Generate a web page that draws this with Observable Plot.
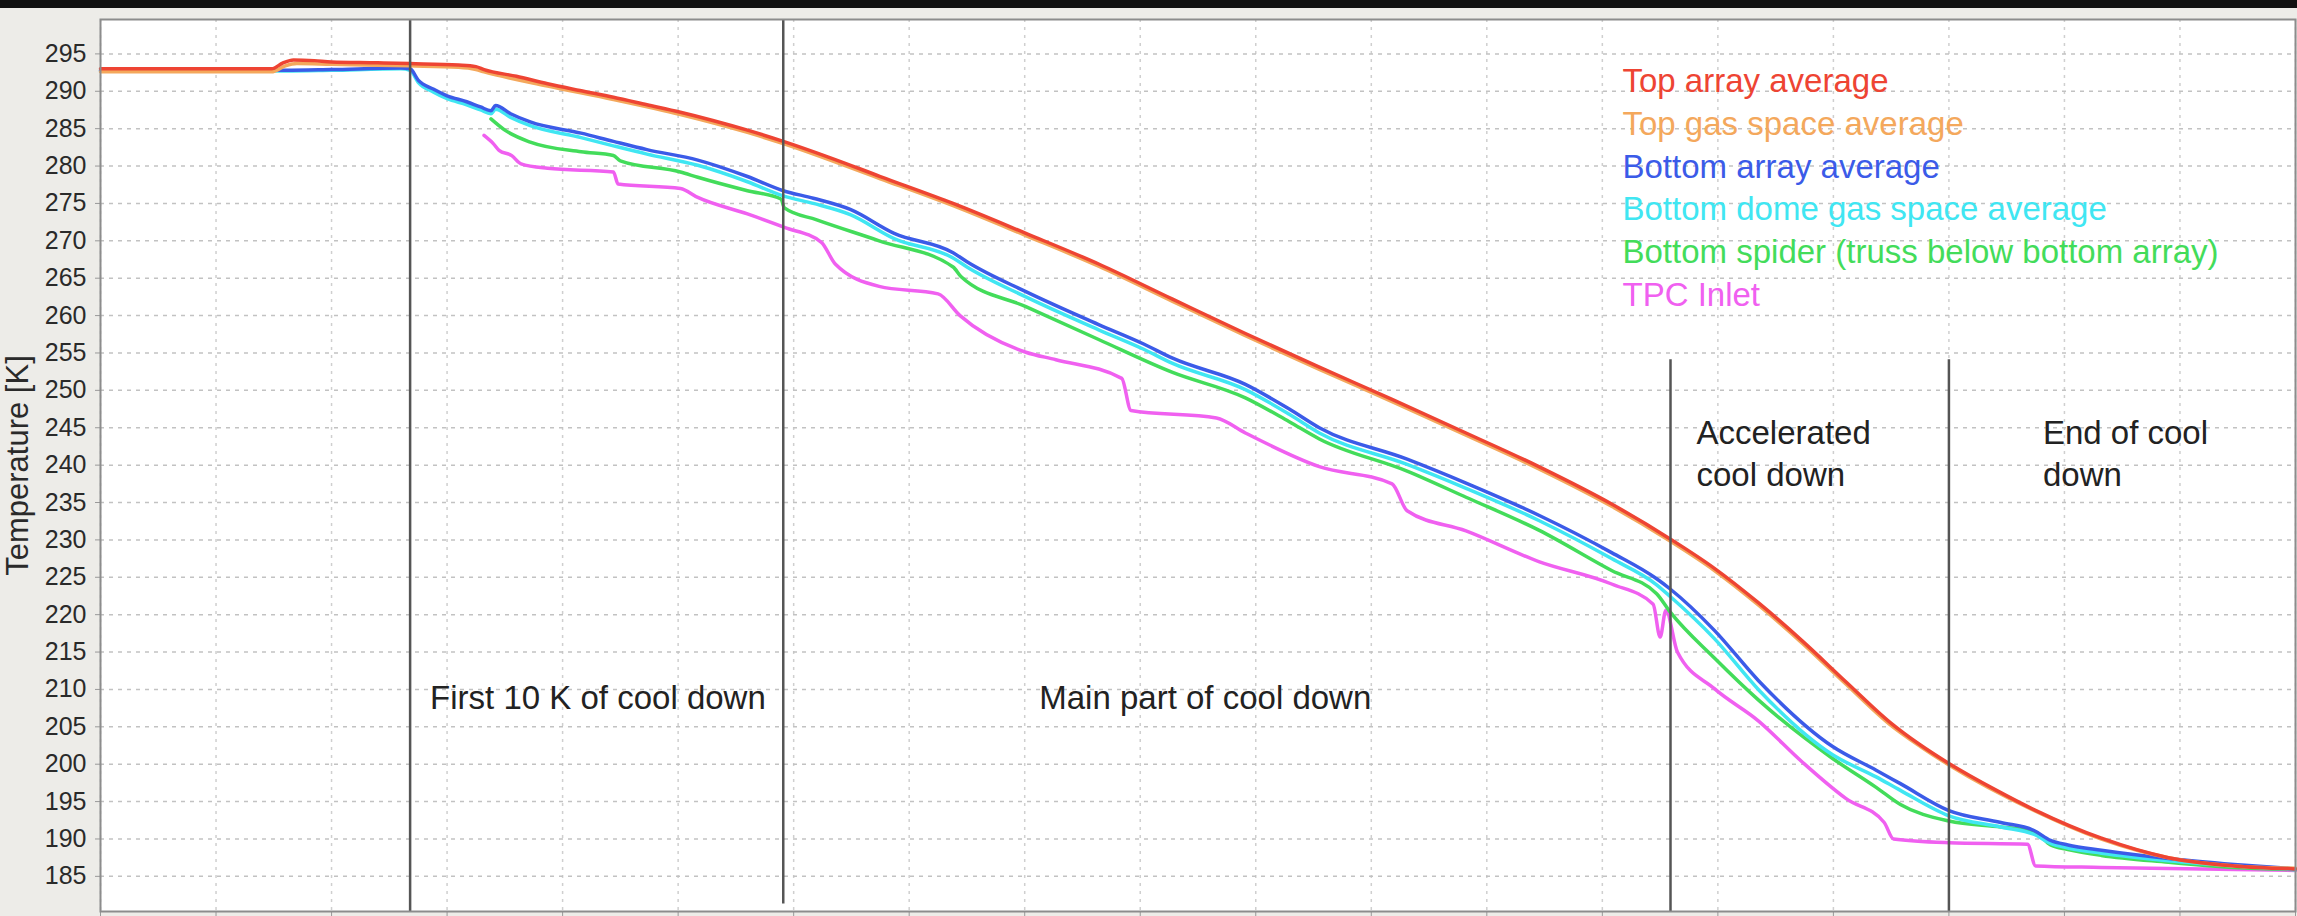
<!DOCTYPE html>
<html><head><meta charset="utf-8">
<script src="https://cdn.jsdelivr.net/npm/d3@7"></script>
<script src="https://cdn.jsdelivr.net/npm/@observablehq/plot@0.6"></script>
<style>
html,body{margin:0;padding:0;background:#edece8;width:2297px;height:916px;overflow:hidden;}
#chart{position:absolute;left:0;top:0;}
#topbar{position:absolute;left:0;top:0;width:2297px;height:8px;background:#111;}
</style></head><body>
<div id="chart"></div>
<div id="topbar"></div>
<script>
// ---- data ----
const seriesNames = [
  "Top array average",
  "Top gas space average",
  "Bottom array average",
  "Bottom dome gas space average",
  "Bottom spider (truss below bottom array)",
  "TPC Inlet"
];
const seriesColors = ["#ee4433", "#f4a85c", "#3b5be8", "#40e6f2", "#43dc5a", "#f060f0"];

// [time, temperature K]
const topArray = [[0,293.0],[0.5,293.0],[1.0,293.0],[1.48,293.0],[1.58,293.8],[1.67,294.2],[1.85,294.1],[2.0,293.9],[2.4,293.8],[2.68,293.7],[3.1,293.5],[3.25,293.3],[3.32,292.9],[3.6,292.0],[3.87,291.0],[4.15,290.1],[4.44,289.2],[4.73,288.2],[5.02,287.2],[5.3,286.1],[5.6,284.8],[5.91,283.3],[6.3,281.2],[6.75,278.6],[7.38,275.0],[8.01,271.0],[8.64,266.9],[9.28,262.2],[9.91,257.6],[10.55,253.1],[11.18,248.8],[11.82,244.3],[12.45,239.8],[13.08,234.8],[13.59,230.1],[13.97,226.2],[14.35,221.6],[14.73,216.5],[15.11,211.0],[15.49,205.6],[15.75,202.6],[16.0,200.1],[16.4,196.6],[16.74,193.9],[17.32,190.1],[17.9,187.5],[18.47,186.4],[19.0,186.0]];
const topGas = [[0,292.6],[1.48,292.6],[1.6,293.4],[1.7,293.7],[2.0,293.6],[2.68,293.4],[3.1,293.2],[3.25,292.9],[3.32,292.6],[3.87,290.7],[4.44,288.9],[5.02,286.9],[5.6,284.5],[5.91,283.0],[6.75,278.3],[7.38,274.7],[8.01,270.7],[8.64,266.6],[9.28,261.9],[9.91,257.3],[10.55,252.8],[11.18,248.5],[11.82,244.0],[12.45,239.5],[13.08,234.5],[13.59,229.8],[13.97,225.9],[14.35,221.3],[14.73,216.2],[15.11,210.7],[15.49,205.3],[15.75,202.4],[16.0,199.9],[16.74,193.8],[17.32,190.0],[17.9,187.5],[18.47,186.4],[19.0,186.1]];
const bottomArray = [[0,292.8],[1.48,292.8],[1.6,292.8],[2.0,292.9],[2.6,293.1],[2.68,293.0],[2.75,291.5],[2.88,290.3],[3.0,289.4],[3.17,288.6],[3.29,287.9],[3.38,287.4],[3.42,288.1],[3.55,287.0],[3.72,285.9],[4.16,284.4],[4.44,283.3],[4.73,282.2],[5.17,280.8],[5.6,278.6],[5.91,276.7],[6.17,275.7],[6.49,274.2],[6.87,271.0],[7.38,268.4],[7.5,267.2],[8.01,263.2],[8.64,258.8],[9.03,256.2],[9.28,254.3],[9.91,250.8],[10.29,247.5],[10.55,245.0],[11.31,240.8],[11.82,237.6],[12.45,233.3],[13.08,228.3],[13.47,224.8],[13.59,223.4],[13.97,217.9],[14.35,211.2],[14.99,202.4],[15.37,199.2],[15.58,197.4],[16.0,193.8],[16.45,192.2],[16.74,191.1],[16.88,189.8],[17.03,189.2],[17.32,188.5],[17.9,187.4],[18.47,186.6],[19.0,186.0]];
const bottomDome = [[0,292.7],[1.48,292.7],[1.6,292.7],[2.0,292.8],[2.6,293.0],[2.68,292.8],[2.75,291.2],[2.88,289.9],[3.0,289.0],[3.17,288.2],[3.29,287.5],[3.38,287.0],[3.42,287.6],[3.55,286.5],[3.72,285.4],[4.16,283.8],[4.44,282.7],[4.73,281.6],[5.17,280.1],[5.6,277.9],[5.91,276.0],[6.17,275.0],[6.49,273.5],[6.87,270.3],[7.38,267.7],[7.5,266.5],[8.01,262.5],[8.64,258.1],[9.03,255.5],[9.28,253.6],[9.91,250.1],[10.29,246.8],[10.55,244.3],[11.31,240.1],[11.82,236.9],[12.45,232.6],[13.08,227.5],[13.47,224.0],[13.59,222.4],[13.97,216.8],[14.35,210.0],[14.99,201.3],[15.37,198.3],[15.58,196.5],[16.0,193.1],[16.45,191.6],[16.74,190.6],[16.88,189.4],[17.03,188.8],[17.32,188.1],[17.9,187.1],[18.47,186.4],[19.0,185.9]];
const bottomSpider = [[3.38,286.3],[3.5,284.8],[3.72,283.2],[4.16,281.9],[4.44,281.4],[4.5,280.7],[5.02,279.2],[5.17,278.5],[5.6,276.7],[5.89,275.6],[5.92,274.4],[6.2,272.8],[6.74,270.0],[7.38,266.5],[7.45,265.2],[8.01,261.2],[8.64,256.8],[9.28,252.4],[9.91,249.0],[10.29,245.8],[10.55,243.5],[11.31,239.2],[11.82,235.7],[12.45,231.3],[13.08,225.9],[13.47,222.8],[13.59,220.3],[13.97,214.2],[14.35,208.6],[14.99,200.8],[15.37,196.9],[15.58,194.6],[16.0,192.4],[16.45,191.6],[16.74,191.0],[16.88,189.2],[17.03,188.6],[17.32,187.8],[17.9,186.9],[18.47,186.2],[19.0,185.9]];
const tpcInlet = [[3.32,284.1],[3.4,283.0],[3.45,282.1],[3.56,281.4],[3.64,280.3],[3.87,279.7],[4.44,279.2],[4.48,277.6],[5.02,277.0],[5.17,275.8],[5.6,273.6],[5.92,271.8],[6.24,269.8],[6.36,266.9],[6.74,263.9],[7.25,262.9],[7.44,260.0],[8.01,255.1],[8.27,254.1],[8.84,251.6],[8.92,247.3],[9.66,246.3],[9.91,244.3],[10.55,239.8],[11.18,237.5],[11.31,233.9],[11.82,231.2],[12.45,227.1],[13.08,224.1],[13.44,221.4],[13.5,217.0],[13.55,220.6],[13.65,215.0],[13.97,210.1],[14.35,205.8],[14.73,200.3],[15.11,195.4],[15.44,192.2],[15.52,190.0],[16.0,189.5],[16.68,189.3],[16.75,186.4],[17.32,186.2],[19.0,185.8]];

const seriesData = [topArray, topGas, bottomArray, bottomDome, bottomSpider, tpcInlet];
const drawOrder = [5, 4, 3, 2, 1, 0];

const eventTimes = [2.68, 5.91, 13.59, 16.0];
const eventTop = [299.6, 299.6, 254.1, 254.1];
const eventBottom = [180.3, 181.3, 180.3, 180.3];
const phaseLabels = ["First 10 K of cool down", "Main part of cool down", "Accelerated\ncool down", "End of cool\ndown"];

const yTicks = d3.range(185, 296, 5);
const xTicks = d3.range(0, 20, 1);
const yLabel = "Temperature [K]";

// ---- chart ----
const font = "'Liberation Sans', Arial, Helvetica, sans-serif";
const events = eventTimes.map((t, i) => ({t, top: eventTop[i], bottom: eventBottom[i]}));

const lineMarks = drawOrder.map(i =>
  Plot.line(seriesData[i], {x: d => d[0], y: d => d[1], stroke: seriesColors[i], strokeWidth: 3.5, strokeLinejoin: "round", curve: "monotone-x"})
);

const phaseDx = [20, 256, 26, 94];
const phaseDy = [-203, -203, -426, -426];
const phaseMarks = phaseLabels.map((label, i) =>
  Plot.text([{label, t: eventTimes[i]}], {x: "t", frameAnchor: "bottom", text: "label", textAnchor: "start", lineAnchor: "bottom",
    dx: phaseDx[i], dy: phaseDy[i], fontSize: 33, lineHeight: 1.25, fill: "#222", fontFamily: font})
);

const legendMarks = seriesNames.map((name, i) =>
  Plot.text([name], {frameAnchor: "top-left", dx: 1522, dy: 72.7 + i * 42.7, textAnchor: "start", lineAnchor: "bottom",
    fontSize: 33, fill: seriesColors[i], fontFamily: font})
);

const chart = Plot.plot({
  width: 2297, height: 916,
  marginTop: 19, marginLeft: 100, marginRight: 2, marginBottom: 5,
  style: {background: "transparent", fontFamily: font, overflow: "visible"},
  x: {domain: [0, 19], axis: null},
  y: {domain: [180.3, 299.6], axis: null},
  marks: [
    Plot.frame({fill: "white", stroke: null}),
    Plot.gridX(xTicks, {stroke: "#cfcfcf", strokeOpacity: 1, strokeDasharray: "3,5", strokeWidth: 1.5}),
    Plot.gridY(yTicks, {stroke: "#c2c2c2", strokeOpacity: 1, strokeDasharray: "4,5", strokeWidth: 1.5}),
    Plot.axisY(yTicks, {tickSize: 5, tickPadding: 9, fontSize: 25, fill: "#2a2a2a", stroke: "#999", label: null, fontFamily: font}),
    Plot.axisX(xTicks, {tickSize: 8, tickFormat: () => "", label: null, stroke: "#999"}),
    ...lineMarks,
    Plot.ruleX(events, {x: "t", y1: "bottom", y2: "top", stroke: "#555", strokeWidth: 2.5}),
    Plot.frame({stroke: "#8c8c8c", strokeWidth: 2}),
    Plot.text([yLabel], {frameAnchor: "left", textAnchor: "middle", lineAnchor: "middle", rotate: -90, dx: -82, fontSize: 31, fill: "#2a2a2a", fontFamily: font}),
    ...phaseMarks,
    ...legendMarks
  ]
});
document.getElementById("chart").appendChild(chart);
</script>
</body></html>
